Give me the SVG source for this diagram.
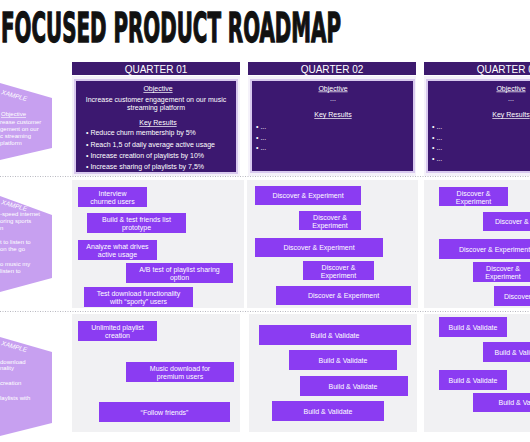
<svg xmlns="http://www.w3.org/2000/svg" width="530" height="442" viewBox="0 0 530 442">
<style>
.title{font-family:"DejaVu Sans Condensed","DejaVu Sans",sans-serif;font-weight:bold;font-size:41px;fill:#111;stroke:#111;stroke-width:1.3}
.qh{fill:#3d1a6e}
.qt{font-family:"Liberation Sans",Arial,sans-serif;font-size:10px;fill:#fff;text-anchor:middle}
.obj{fill:#3c1870;stroke:#d8c9ee;stroke-width:2}
.ot{font-family:"Liberation Sans",Arial,sans-serif;font-size:7px;fill:#fff;text-anchor:middle}
.ol{font-family:"Liberation Sans",Arial,sans-serif;font-size:7px;fill:#fff}
.u{text-decoration:underline}
.col{fill:#f1f1f3}
.task{fill:#8b3cf2}
.tt{font-family:"Liberation Sans",Arial,sans-serif;font-size:7px;fill:#fff;text-anchor:middle}
.ex{fill:#c7a0f0}
.et{font-family:"Liberation Sans",Arial,sans-serif;font-size:6px;fill:#fff}
.eh{font-family:"Liberation Sans",Arial,sans-serif;font-size:6.5px;fill:#fff;font-style:italic}
.dot{stroke:#b8b8c0;stroke-width:1;stroke-dasharray:1 1.5;fill:none}
</style>
<rect x="0" y="0" width="530" height="442" fill="#fff"/>
<text class="title" x="1" y="42" textLength="340" lengthAdjust="spacingAndGlyphs">FOCUSED PRODUCT ROADMAP</text>

<g id="columns">
<rect x="72" y="76" width="168" height="100" fill="#f5f2fa"/>
<rect x="248" y="76" width="168" height="100" fill="#f5f2fa"/>
<rect x="424" y="76" width="106" height="100" fill="#f5f2fa"/>
<rect class="col" x="72" y="180" width="172" height="128"/>
<rect class="col" x="247" y="180" width="171" height="128"/>
<rect class="col" x="424" y="180" width="106" height="128"/>
<rect class="col" x="72" y="314" width="168" height="118"/>
<rect class="col" x="249" y="314" width="168" height="118"/>
<rect class="col" x="424" y="314" width="106" height="118"/>
</g>

<g id="dividers">
<line class="dot" x1="0" y1="176.5" x2="530" y2="176.5"/>
<line class="dot" x1="0" y1="311.5" x2="530" y2="311.5"/>
</g>

<g id="example1">
<polygon class="ex" points="0,83 52,98 52,148 0,160"/>
<text class="eh" x="1" y="94" transform="rotate(16 1 94)">XAMPLE</text>
<text class="et u" x="1" y="116">Objective</text>
<text class="et" x="0" y="124">rease customer</text>
<text class="et" x="0" y="131">gement on our</text>
<text class="et" x="0" y="138">c streaming</text>
<text class="et" x="0" y="145">platform</text>
</g>
<g id="example2">
<polygon class="ex" points="0,196 52,215 52,278 0,292"/>
<text class="eh" x="1" y="204" transform="rotate(16 1 204)">XAMPLE</text>
<text class="et" x="0" y="216">-speed internet</text>
<text class="et" x="0" y="223">oring sports</text>
<text class="et" x="0" y="230">n</text>
<text class="et" x="0" y="244">t to listen to</text>
<text class="et" x="0" y="251">on the go</text>
<text class="et" x="0" y="266">o music my</text>
<text class="et" x="0" y="273">listen to</text>
</g>
<g id="example3">
<polygon class="ex" points="0,337 52,352 52,423 0,436"/>
<text class="eh" x="1" y="345" transform="rotate(16 1 345)">XAMPLE</text>
<text class="et" x="0" y="364">download</text>
<text class="et" x="0" y="370">nality</text>
<text class="et" x="0" y="385">creation</text>
<text class="et" x="0" y="400">laylists with</text>
</g>

<g id="q1-header">
<rect class="qh" x="72" y="62" width="168" height="13"/>
<text class="qt" x="156" y="72.5">QUARTER 01</text>
</g>
<g id="q1-objective">
<rect class="obj" x="75" y="80" width="162" height="93"/>
<text class="ot u" x="158" y="91">Objective</text>
<text class="ot" x="156" y="101.5">Increase customer engagement on our music</text>
<text class="ot" x="156" y="109.5">streaming platform</text>
<text class="ot u" x="158" y="125">Key Results</text>
<text class="ol" x="86" y="134.5">•  Reduce churn membership by 5%</text>
<text class="ol" x="86" y="147">•  Reach 1,5 of daily average active usage</text>
<text class="ol" x="86" y="158">•  Increase creation of playlists by 10%</text>
<text class="ol" x="86" y="169">•  Increase sharing of playlists by 7,5%</text>
</g>
<g id="q2-header">
<rect class="qh" x="248" y="62" width="168" height="13"/>
<text class="qt" x="332" y="72.5">QUARTER 02</text>
</g>
<g id="q2-objective">
<rect class="obj" x="251" y="80" width="163" height="92"/>
<text class="ot u" x="333" y="90.5">Objective</text>
<text class="ot" x="333" y="101">...</text>
<text class="ot u" x="333" y="117">Key Results</text>
<text class="ol" x="256" y="129">•  ...</text>
<text class="ol" x="256" y="140">•  ...</text>
<text class="ol" x="256" y="150">•  ...</text>
</g>
<g id="q3-header">
<rect class="qh" x="424" y="62" width="168" height="13"/>
<text class="qt" x="508" y="72.5">QUARTER 03</text>
</g>
<g id="q3-objective">
<rect class="obj" x="427" y="80" width="163" height="92"/>
<text class="ot u" x="511" y="90.5">Objective</text>
<text class="ot" x="511" y="101">...</text>
<text class="ot u" x="511" y="117">Key Results</text>
<text class="ol" x="432" y="129">•  ...</text>
<text class="ol" x="432" y="139.5">•  ...</text>
<text class="ol" x="432" y="150">•  ...</text>
<text class="ol" x="432" y="161">•  ...</text>
</g>

<g id="q1-d1"><rect class="task" x="78" y="187" width="69" height="20"/><text class="tt" x="112.5" y="196">Interview</text><text class="tt" x="112.5" y="204">churned users</text></g>
<g id="q1-d2"><rect class="task" x="87" y="213" width="99" height="20"/><text class="tt" x="136.5" y="222">Build &amp; test friends list</text><text class="tt" x="136.5" y="230">prototype</text></g>
<g id="q1-d3"><rect class="task" x="78" y="240" width="79" height="20"/><text class="tt" x="117.5" y="249">Analyze what drives</text><text class="tt" x="117.5" y="257">active usage</text></g>
<g id="q1-d4"><rect class="task" x="126" y="263" width="107" height="20"/><text class="tt" x="179.5" y="272">A/B test of playlist sharing</text><text class="tt" x="179.5" y="280">option</text></g>
<g id="q1-d5"><rect class="task" x="84" y="287" width="109" height="20"/><text class="tt" x="138.5" y="296">Test download functionality</text><text class="tt" x="138.5" y="304">with “sporty” users</text></g>

<g id="q2-d1"><rect class="task" x="255" y="186" width="106" height="19"/><text class="tt" x="308" y="198">Discover &amp; Experiment</text></g>
<g id="q2-d2"><rect class="task" x="299" y="211" width="62" height="19"/><text class="tt" x="330" y="219.5">Discover &amp;</text><text class="tt" x="330" y="227.5">Experiment</text></g>
<g id="q2-d3"><rect class="task" x="255" y="238" width="128" height="19"/><text class="tt" x="319" y="250">Discover &amp; Experiment</text></g>
<g id="q2-d4"><rect class="task" x="303" y="261" width="71" height="19"/><text class="tt" x="338.5" y="269.5">Discover &amp;</text><text class="tt" x="338.5" y="277.5">Experiment</text></g>
<g id="q2-d5"><rect class="task" x="276" y="286" width="135" height="19"/><text class="tt" x="343.5" y="298">Discover &amp; Experiment</text></g>

<g id="q3-d1"><rect class="task" x="439" y="187" width="69" height="19"/><text class="tt" x="473.5" y="195.5">Discover &amp;</text><text class="tt" x="473.5" y="203.5">Experiment</text></g>
<g id="q3-d2"><rect class="task" x="483" y="212" width="95" height="19"/><text class="tt" x="530.5" y="224">Discover &amp; Experiment</text></g>
<g id="q3-d3"><rect class="task" x="439" y="239" width="111" height="20"/><text class="tt" x="494.5" y="251.5">Discover &amp; Experiment</text></g>
<g id="q3-d4"><rect class="task" x="473" y="262" width="60" height="20"/><text class="tt" x="503" y="271">Discover &amp;</text><text class="tt" x="503" y="279">Experiment</text></g>
<g id="q3-d5"><rect class="task" x="494" y="286" width="91" height="20"/><text class="tt" x="539.5" y="298.5">Discover &amp; Experiment</text></g>

<g id="q1-b1"><rect class="task" x="78" y="321" width="79" height="20"/><text class="tt" x="117.5" y="330">Unlimited playlist</text><text class="tt" x="117.5" y="338">creation</text></g>
<g id="q1-b2"><rect class="task" x="126" y="362" width="108" height="20"/><text class="tt" x="180" y="371">Music download for</text><text class="tt" x="180" y="379">premium users</text></g>
<g id="q1-b3"><rect class="task" x="99" y="402" width="131" height="20"/><text class="tt" x="164.5" y="414.5">“Follow friends”</text></g>

<g id="q2-b1"><rect class="task" x="259" y="325" width="152" height="20"/><text class="tt" x="335" y="337.5">Build &amp; Validate</text></g>
<g id="q2-b2"><rect class="task" x="289" y="350" width="108" height="20"/><text class="tt" x="343" y="362.5">Build &amp; Validate</text></g>
<g id="q2-b3"><rect class="task" x="300" y="376" width="108" height="20"/><text class="tt" x="353" y="388.5">Build &amp; Validate</text></g>
<g id="q2-b4"><rect class="task" x="272" y="401" width="112" height="20"/><text class="tt" x="328" y="413.5">Build &amp; Validate</text></g>

<g id="q3-b1"><rect class="task" x="439" y="317" width="68" height="20"/><text class="tt" x="473" y="329.5">Build &amp; Validate</text></g>
<g id="q3-b2"><rect class="task" x="483" y="342" width="72" height="20"/><text class="tt" x="519" y="354.5">Build &amp; Validate</text></g>
<g id="q3-b3"><rect class="task" x="439" y="370" width="68" height="20"/><text class="tt" x="473" y="382.5">Build &amp; Validate</text></g>
<g id="q3-b4"><rect class="task" x="473" y="393" width="100" height="19"/><text class="tt" x="523" y="405">Build &amp; Validate</text></g>

<g id="connectors"></g>
</svg>
